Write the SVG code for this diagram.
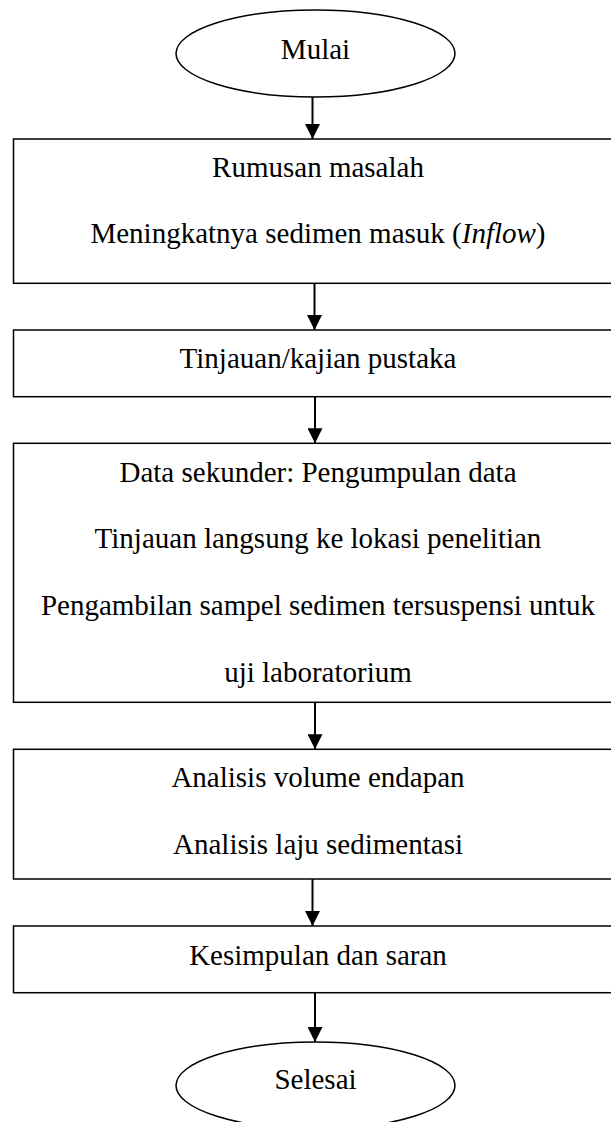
<svg xmlns="http://www.w3.org/2000/svg" width="611" height="1122" viewBox="0 0 611 1122">
<style>
.shape{fill:#fff;stroke:#000;stroke-width:1.5}
.txt{font-family:"Liberation Serif","Times New Roman",serif;font-size:29px;fill:#000;text-anchor:middle}
.conn{stroke:#000;stroke-width:2;fill:none}
</style>
<defs>
<marker id="arr" markerUnits="userSpaceOnUse" markerWidth="15" markerHeight="15" refX="15" refY="7.5" orient="auto">
<path d="M0,0 L15,7.5 L0,15 Z" fill="#000"/>
</marker>
</defs>
<rect width="611" height="1122" fill="#fff"/>
<g id="start">
<ellipse class="shape" cx="315.5" cy="53.5" rx="139.5" ry="43.5"/>
<text class="txt" x="315.5" y="59">Mulai</text>
</g>
<g id="rumusan">
<rect class="shape" x="13.5" y="139" width="610" height="144.3"/>
<text class="txt" x="318" y="176.7">Rumusan masalah</text>
<text class="txt" x="318" y="243.3">Meningkatnya sedimen masuk (<tspan font-style="italic">Inflow</tspan>)</text>
</g>
<g id="tinjauan">
<rect class="shape" x="13.5" y="330" width="610" height="66.7"/>
<text class="txt" x="318" y="367.7">Tinjauan/kajian pustaka</text>
</g>
<g id="data">
<rect class="shape" x="13.5" y="443.3" width="610" height="259"/>
<text class="txt" x="318" y="481.7">Data sekunder: Pengumpulan data</text>
<text class="txt" x="318" y="548.3">Tinjauan langsung ke lokasi penelitian</text>
<text class="txt" x="318" y="615">Pengambilan sampel sedimen tersuspensi untuk</text>
<text class="txt" x="318" y="681.7">uji laboratorium</text>
</g>
<g id="analisis">
<rect class="shape" x="13.5" y="749.3" width="610" height="129.7"/>
<text class="txt" x="318" y="787.3">Analisis volume endapan</text>
<text class="txt" x="318" y="854">Analisis laju sedimentasi</text>
</g>
<g id="kesimpulan">
<rect class="shape" x="13.5" y="926" width="610" height="66.7"/>
<text class="txt" x="318" y="965">Kesimpulan dan saran</text>
</g>
<g id="end">
<ellipse class="shape" cx="315.5" cy="1085.5" rx="139.5" ry="43.5"/>
<text class="txt" x="315.5" y="1089.3">Selesai</text>
</g>
<g id="connectors">
<line class="conn" x1="312.5" y1="97" x2="312.5" y2="139" marker-end="url(#arr)"/>
<line class="conn" x1="314.5" y1="283.3" x2="314.5" y2="330" marker-end="url(#arr)"/>
<line class="conn" x1="315" y1="396.7" x2="315" y2="443.3" marker-end="url(#arr)"/>
<line class="conn" x1="315" y1="702.3" x2="315" y2="749.3" marker-end="url(#arr)"/>
<line class="conn" x1="312.5" y1="879" x2="312.5" y2="926" marker-end="url(#arr)"/>
<line class="conn" x1="315" y1="992.7" x2="315" y2="1042" marker-end="url(#arr)"/>
</g>
</svg>
